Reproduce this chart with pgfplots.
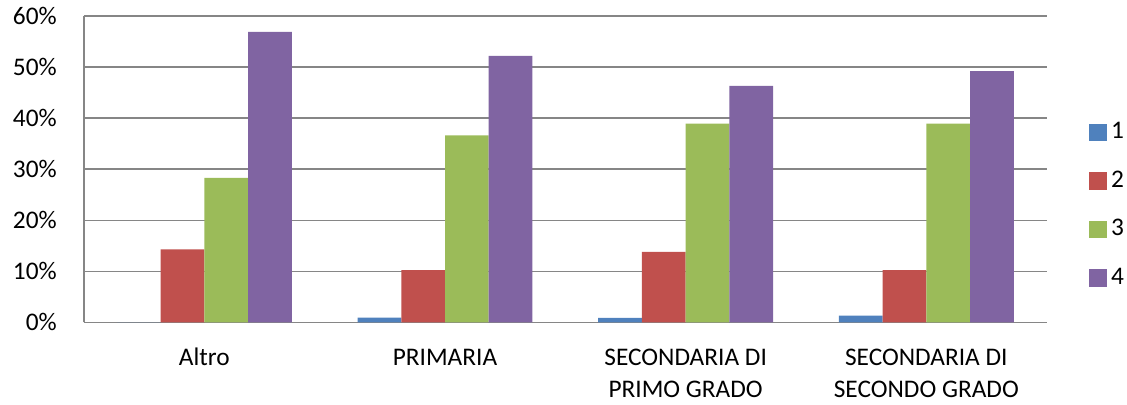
\documentclass[border=0pt]{standalone}
\usepackage{fontspec}
\setmainfont{Carlito}
\usepackage{pgfplots}
\pgfplotsset{compat=1.18}

\definecolor{serA}{HTML}{4F81BD}
\definecolor{serB}{HTML}{C0504D}
\definecolor{serC}{HTML}{9BBB59}
\definecolor{serD}{HTML}{8064A2}
\definecolor{gridgray}{RGB}{134,134,134}

\begin{document}
\begin{tikzpicture}
\useasboundingbox (-63pt,-61.3pt) rectangle (782.25pt,241.7pt);
\begin{axis}[
  at={(0,0)}, anchor=south west,
  scale only axis, width=722pt, height=229.7pt,
  ybar=0pt, bar width=32.8pt,
  xmin=-0.5, xmax=3.5, ymin=0, ymax=60,
  xtick={0,1,2,3},
  xticklabels={\strut Altro, \strut PRIMARIA, {\strut SECONDARIA DI\\PRIMO GRADO}, {\strut SECONDARIA DI\\SECONDO GRADO}},
  ytick={0,10,...,60},
  /pgf/number format/assume math mode=true,
  yticklabel={\pgfmathprintnumber{\tick}\%},
  ymajorgrids,
  major grid style={draw=gridgray, line width=1pt},
  axis x line*=bottom, axis y line*=left,
  axis line style={draw=gridgray, line width=1.1pt},
  major tick length=0pt,
  tick label style={font=\fontsize{19}{23.8}\selectfont, text=black, inner sep=0pt},
  yticklabel style={anchor=east, xshift=-20.25pt, text height=12pt, text depth=0pt},
  xticklabel style={anchor=north, align=center, yshift=-15.9pt},
  legend style={at={(rel axis cs:1.044,0.382)}, anchor=west, draw=none, fill=none,
    inner sep=0pt, font=\fontsize{19}{23.8}\selectfont, text=black,
    nodes={inner sep=0pt, text height=11.4pt, text depth=1.9pt},
    row sep=23.1pt, column sep=3pt},
  legend cell align=left,
  legend image code/.code={\path[#1,draw=none] (0pt,-6.65pt) rectangle (13.3pt,6.65pt);},
]
\addplot[fill=serA, draw=none] coordinates {(0,0) (1,0.9) (2,0.85) (3,1.3)};
\addplot[fill=serB, draw=none] coordinates {(0,14.3) (1,10.2) (2,13.8) (3,10.2)};
\addplot[fill=serC, draw=none] coordinates {(0,28.3) (1,36.6) (2,38.9) (3,38.9)};
\addplot[fill=serD, draw=none] coordinates {(0,56.9) (1,52.2) (2,46.3) (3,49.2)};
\legend{1,2,3,4}
\end{axis}
\end{tikzpicture}
\end{document}
